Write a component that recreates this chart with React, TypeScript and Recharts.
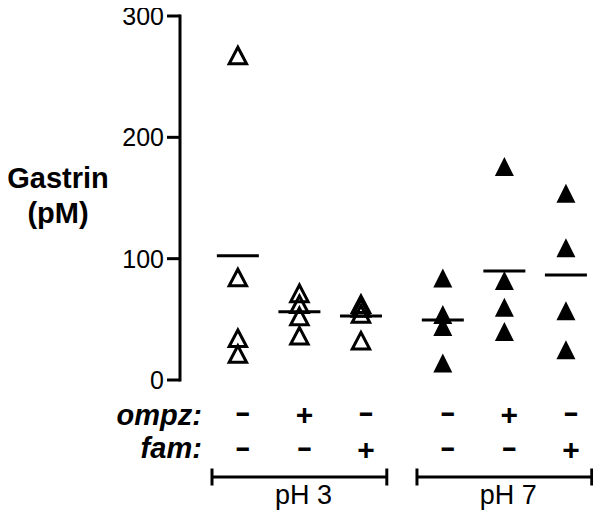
import React from 'react';
import { ScatterChart, Scatter, XAxis, YAxis } from 'recharts';

const FONT = "'Liberation Sans', Arial, Helvetica, sans-serif";

// Column positions (x) of the six treatment groups
const GROUP_X = [1, 2, 3, 4.33, 5.33, 6.33];
const OMPZ_SIGNS = ['-', '+', '-', '-', '+', '-'];
const FAM_SIGNS = ['-', '-', '+', '-', '-', '+'];

// Gastrin (pM) per animal
const PH3_CONTROL = [268, 85, 35, 22];
const PH3_OMPZ = [72, 63, 53, 37];
const PH3_FAM = [63, 60, 55, 33];
const PH7_CONTROL = [84, 54, 44, 14];
const PH7_OMPZ = [176, 82, 60, 40];
const PH7_FAM = [154, 109, 57, 25];

// Group means (horizontal bars)
const MEANS = [102.5, 56.3, 52.7, 49.5, 89.8, 86.5];

const PH_LABELS = ['pH 3', 'pH 7'];
const PH_CENTERS = [2, 5.33];
const BRACKET_HALF = 1.42;

const Y_TICKS = [0, 100, 200, 300];
const Y_DOMAIN = [0, 300];
const X_DOMAIN = [0.06, 6.77];

const CHART_W = 593;
const CHART_H = 512;
const MARGIN = { top: 8, right: 8, bottom: 0, left: 0 };
const YAXIS_W = 172;
const PXU = (CHART_W - YAXIS_W - MARGIN.right - MARGIN.left) / (X_DOMAIN[1] - X_DOMAIN[0]);

const SERIES = [PH3_CONTROL, PH3_OMPZ, PH3_FAM, PH7_CONTROL, PH7_OMPZ, PH7_FAM];
const seriesData = SERIES.map((vals, i) => vals.map((v) => ({ x: GROUP_X[i], y: v })));
const meanData = MEANS.map((m, i) => ({ x: GROUP_X[i], y: m }));

const OpenTriangle = (props: any) => {
  const { cx, cy } = props;
  if (cx == null || cy == null) return null;
  return (
    <path
      d={`M${cx},${cy - 7.6} L${cx + 8.7},${cy + 9} L${cx - 8.7},${cy + 9} Z`}
      fill="none"
      stroke="#000"
      strokeWidth={3}
      strokeLinejoin="miter"
    />
  );
};

const FilledTriangle = (props: any) => {
  const { cx, cy } = props;
  if (cx == null || cy == null) return null;
  return <path d={`M${cx},${cy - 9.5} L${cx + 9.5},${cy + 9.5} L${cx - 9.5},${cy + 9.5} Z`} fill="#000" />;
};

const MeanBar = (props: any) => {
  const { cx, cy } = props;
  if (cx == null || cy == null) return null;
  return <line x1={cx - 21} x2={cx + 21} y1={cy} y2={cy} stroke="#000" strokeWidth={3} />;
};

// centreY = visual centre of the sign
const SignText = ({ sign, x, centreY }: any) =>
  sign === '+' ? (
    <text x={x} y={centreY + 10.5} textAnchor="middle" fontFamily={FONT} fontWeight="bold" fontSize={30} fill="#000">
      +
    </text>
  ) : (
    <text
      x={x}
      y={centreY + 7.7}
      textAnchor="middle"
      fontFamily={FONT}
      fontWeight="bold"
      fontSize={30}
      fill="#000"
      textLength={16}
      lengthAdjust="spacingAndGlyphs"
    >
      -
    </text>
  );

const SignTick = (props: any) => {
  const { x, y, payload } = props;
  const i = GROUP_X.indexOf(payload.value);
  if (i < 0) return null;
  return (
    <g>
      {i === 0 && (
        <g>
          <text x={x - 36} y={y + 45} textAnchor="end" fontFamily={FONT} fontWeight="bold" fontStyle="italic" fontSize={29} fill="#000">
            ompz:
          </text>
          <text x={x - 36} y={y + 78} textAnchor="end" fontFamily={FONT} fontWeight="bold" fontStyle="italic" fontSize={29} fill="#000">
            fam:
          </text>
        </g>
      )}
      <SignText sign={OMPZ_SIGNS[i]} x={x + 5} centreY={y + 34} />
      <SignText sign={FAM_SIGNS[i]} x={x + 5} centreY={y + 69} />
    </g>
  );
};

const GroupTick = (props: any) => {
  const { x, y, payload } = props;
  const i = PH_CENTERS.indexOf(payload.value);
  if (i < 0) return null;
  const hw = BRACKET_HALF * PXU;
  const ly = y + 11;
  return (
    <g>
      <line x1={x - hw} x2={x + hw} y1={ly} y2={ly} stroke="#000" strokeWidth={3} />
      <line x1={x - hw} x2={x - hw} y1={ly - 8.5} y2={ly + 8.5} stroke="#000" strokeWidth={3} />
      <line x1={x + hw} x2={x + hw} y1={ly - 8.5} y2={ly + 8.5} stroke="#000" strokeWidth={3} />
      <text x={x + 4} y={y + 38} textAnchor="middle" fontFamily={FONT} fontSize={27} fill="#000">
        {PH_LABELS[i]}
      </text>
    </g>
  );
};

const GastrinLabel = (props: any) => {
  const vb = props.viewBox || { x: 0, y: MARGIN.top, width: YAXIS_W, height: 364 };
  const cx = vb.x + 50;
  const cy = vb.y + vb.height / 2;
  return (
    <g>
      <text x={cx} y={cy - 10} textAnchor="middle" fontFamily={FONT} fontWeight="bold" fontSize={29} fill="#000">
        Gastrin
      </text>
      <text x={cx} y={cy + 25} textAnchor="middle" fontFamily={FONT} fontWeight="bold" fontSize={29} fill="#000">
        (pM)
      </text>
    </g>
  );
};

export default function App() {
  return (
    <ScatterChart width={CHART_W} height={CHART_H} margin={MARGIN}>
      <XAxis
        type="number"
        dataKey="x"
        domain={X_DOMAIN}
        ticks={GROUP_X}
        axisLine={false}
        tickLine={false}
        tickSize={0}
        tickMargin={0}
        height={86}
        interval={0}
        allowDataOverflow
        tick={<SignTick />}
      />
      <XAxis
        xAxisId="grp"
        type="number"
        dataKey="x"
        domain={X_DOMAIN}
        ticks={PH_CENTERS}
        axisLine={false}
        tickLine={false}
        tickSize={0}
        tickMargin={0}
        height={54}
        interval={0}
        allowDataOverflow
        tick={<GroupTick />}
      />
      <YAxis
        type="number"
        dataKey="y"
        domain={Y_DOMAIN}
        ticks={Y_TICKS}
        width={YAXIS_W}
        interval={0}
        axisLine={{ stroke: '#000', strokeWidth: 3, strokeLinecap: 'square' }}
        tickLine={{ stroke: '#000', strokeWidth: 3 }}
        tickSize={13}
        tickMargin={3}
        tick={{ fontSize: 25, fill: '#000', fontFamily: FONT }}
        label={<GastrinLabel />}
      />
      {seriesData.map((d, i) => (
        <Scatter
          key={`s${i}`}
          data={d}
          isAnimationActive={false}
          shape={i < 3 ? <OpenTriangle /> : <FilledTriangle />}
        />
      ))}
      <Scatter data={meanData} isAnimationActive={false} shape={<MeanBar />} />
    </ScatterChart>
  );
}
